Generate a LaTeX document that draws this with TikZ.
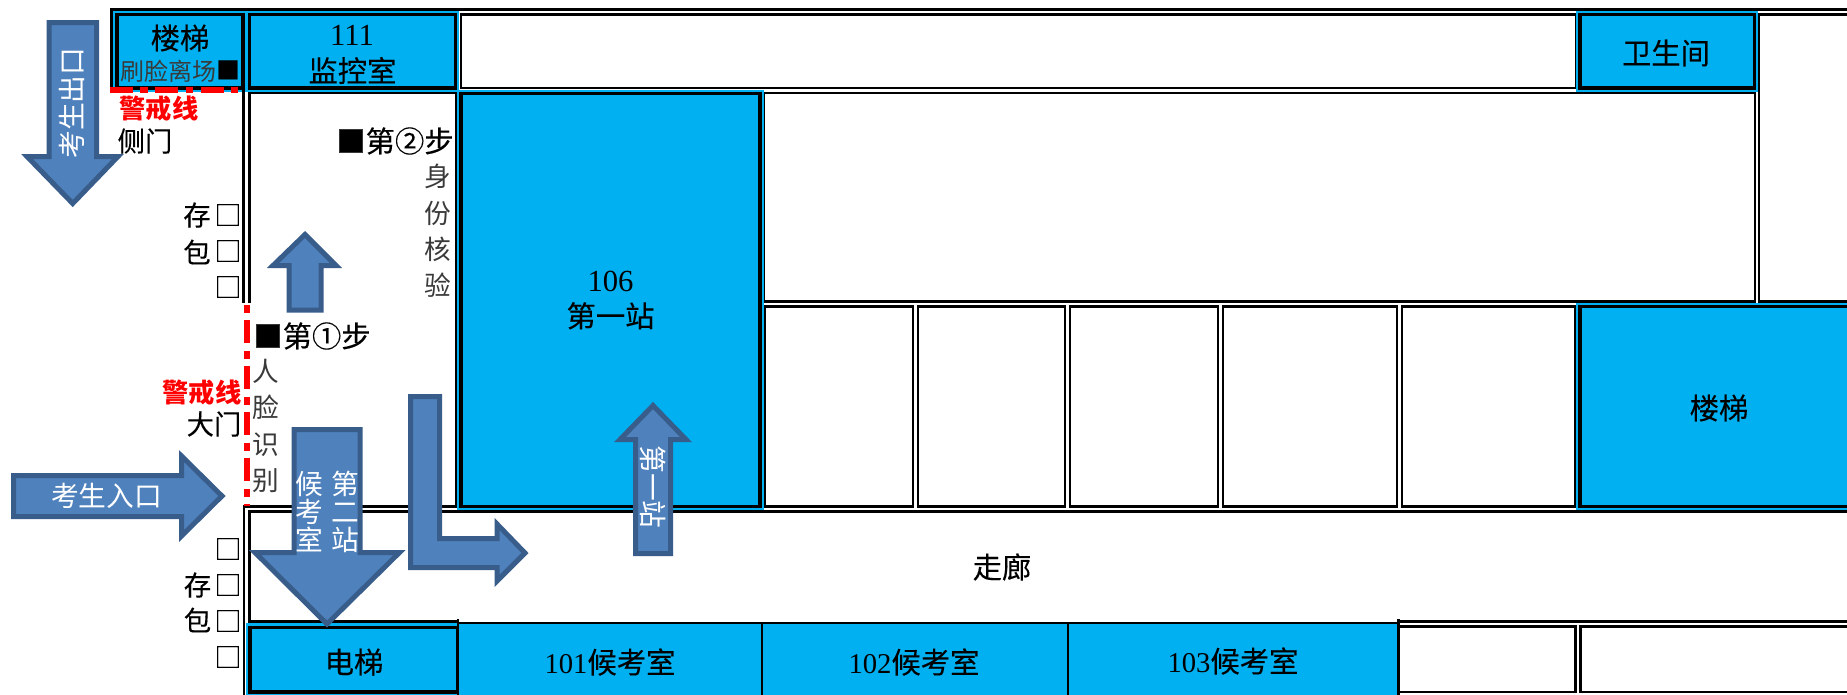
\documentclass[tikz,border=0pt]{standalone}
\usepackage{fontspec}
\setmainfont{Noto Sans CJK SC}
\newfontfamily\heavyfont[FakeBold=0.2]{Noto Sans CJK SC}
\newfontfamily\digitfont{Liberation Serif}
\definecolor{roomblue}{HTML}{00B0F0}
\definecolor{arrowfill}{HTML}{4F81BD}
\definecolor{arrowline}{HTML}{385D8A}
\definecolor{thintext}{HTML}{3A3A3A}
\tikzset{
  wall/.style={draw=black,line width=2.15pt},
  bluewall/.style={draw=black,line width=2.6pt,fill=roomblue},
  halo/.style={draw=roomblue,line width=.9pt,fill=roomblue},
  flow/.style={draw=arrowline,fill=arrowfill,line width=3.75pt,miter limit=10},
  redline/.style={draw=red,line width=4.1pt},
  lbl/.style={inner sep=0pt,outer sep=0pt,align=center},
  big/.style={lbl,font=\heavyfont\fontsize{22}{27}\selectfont},
  mid/.style={lbl,font=\heavyfont\fontsize{20.5}{27}\selectfont,text=black},
  thin/.style={lbl,font=\fontsize{20}{27.2}\selectfont,text=thintext},
  swipestyle/.style={lbl,font=\fontsize{18}{22}\selectfont,text=thintext},
  warn/.style={lbl,font=\fontsize{19.7}{22}\selectfont\bfseries,text=red},
  onarrow/.style={lbl,font=\fontsize{20.8}{21}\selectfont,text=white},
}
\newcommand{\dg}[1]{{\digitfont\fontsize{21.5}{24}\selectfont #1}}
\begin{document}
\begin{tikzpicture}[x=.75pt,y=-.75pt]
\useasboundingbox (0,0) rectangle (1847,694);
\fill[white] (0,0) rectangle (1847,694);
% outer top frame
\draw[wall] (111.5,90) -- (111.5,9.5) -- (1860,9.5);
% top row
\draw[halo] (114,11.5) rectangle (245.5,91);
\draw[bluewall] (117,14.5) rectangle (243,88);
\draw[halo] (246,11.5) rectangle (458.5,91);
\draw[bluewall] (249.5,14.5) rectangle (455.5,88);
\draw[wall] (461,14.5) rectangle (1576,88);
\draw[halo] (1577,11.5) rectangle (1757.5,91);
\draw[bluewall] (1580,14.5) rectangle (1754.5,88);
\draw[wall] (1860,14.5) -- (1759,14.5) -- (1759,301.5) -- (1860,301.5);
% second row
\draw[wall] (764,93) rectangle (1755,301.5);
\draw[halo] (458,90.5) rectangle (763,509);
\draw[bluewall] (461,93.5) rectangle (760,506.3);
% side rooms at the entrance
\draw[wall] (243.5,88) -- (243.5,303);
\draw[wall] (249.5,303) -- (249.5,93) -- (456,93) -- (456,506.3) -- (244,506.3) -- (244,700);
% lower row of rooms
\draw[wall] (765,306.7) rectangle (913,506.3);
\draw[wall] (918,306.7) rectangle (1065,506.3);
\draw[wall] (1070,306.7) rectangle (1218,506.3);
\draw[wall] (1223,306.7) rectangle (1397,506.3);
\draw[wall] (1402,306.7) rectangle (1575.5,506.3);
\draw[halo] (1577,304) rectangle (1860,509);
\draw[bluewall] (1580,306.7) rectangle (1860,506.3);
% corridor
\draw[wall] (249.5,700) -- (249.5,511.3) -- (1860,511.3);
\draw[wall] (249.5,621.5) -- (458,621.5);
\draw[wall] (1398,621.5) -- (1860,621.5);
% bottom row
\draw[halo] (247,624) rectangle (460,700);
\draw[bluewall] (250,627.5) rectangle (457.5,692);
\fill[roomblue] (459,623) rectangle (1398,700);
\draw[wall] (458,623) -- (1398,623);
\draw[wall] (458,619) -- (458,700);
\draw[wall] (762,623) -- (762,700);
\draw[wall] (1068,623) -- (1068,700);
\draw[wall] (1398.5,619) -- (1398.5,700);
\draw[wall] (1399,626.5) rectangle (1575.5,692);
\draw[wall] (1580.5,626.5) rectangle (1860,692);
% red warning lines
\draw[redline,dash pattern=on 17.25pt off 5.6pt on 5.6pt off 5.6pt] (110,90) -- (238,90);
\draw[redline,dash pattern=on 6pt off 5.25pt on 17.25pt off 6pt] (247,305) -- (247,506);
% arrows
\draw[flow] (49,22.5) -- (96.5,22.5) -- (96.5,156.5) -- (118,156.5) -- (72.7,203.5) -- (27,156.5) -- (49,156.5) -- cycle;
\draw[flow] (289,310) -- (321,310) -- (321,265.5) -- (336,265.5) -- (305,234.5) -- (273,265.5) -- (289,265.5) -- cycle;
\draw[flow] (13.5,475.5) -- (181.5,475.5) -- (181.5,456) -- (222,496) -- (181.5,536) -- (181.5,516.5) -- (13.5,516.5) -- cycle;
\draw[flow] (294,429.5) -- (360,429.5) -- (360,552.5) -- (399.5,552.5) -- (327,624) -- (255,552.5) -- (294,552.5) -- cycle;
\draw[flow] (410.5,396.5) -- (439.5,396.5) -- (439.5,538.5) -- (497,538.5) -- (497,524) -- (525,553) -- (497,581) -- (497,567.5) -- (410.5,567.5) -- cycle;
\draw[flow] (635.5,553.5) -- (670.5,553.5) -- (670.5,439.5) -- (686,439.5) -- (653,405.5) -- (620,439.5) -- (635.5,439.5) -- cycle;
% texts on the top row
\node[big] (stairA) at (180,38) {楼梯};
\node[swipestyle] (swipe) at (168,71) {刷脸离场};
\node[swipestyle,text=black] (swipeMark) at (228.5,70) {■};
\node[lbl] (numA) at (352,35) {\dg{\fontsize{23}{24}\selectfont 111}};
\node[big] (monitor) at (352.5,70.5) {监控室};
\node[big] (wc) at (1666,53) {卫生间};
% left side texts
\node[warn] (warnA) at (159,108) {警戒线};
\node[mid] (sideDoor) at (145,141) {侧门};
\node[mid] (storeA) at (197,215) {存};
\node[mid] (bagA) at (197,252) {包};
\node[mid] (boxA) at (228,215) {□};
\node[mid] (boxB) at (228,251) {□};
\node[mid] (boxC) at (228,287) {□};
\node[big] (stepTwo) at (395,141) {■第②步};
\node[thin] (verify) at (438,231) {身\\份\\核\\验};
\node[big] (stepOne) at (312,336) {■第①步};
\node[thin] (face) at (266,426) {人\\脸\\识\\别};
\node[warn] (warnB) at (202,392) {警戒线};
\node[mid] (mainDoor) at (214,424) {大门};
\node[mid] (boxD) at (228,549) {□};
\node[mid] (boxE) at (228,585) {□};
\node[mid] (boxF) at (228,621) {□};
\node[mid] (boxG) at (228,657) {□};
\node[mid] (storeB) at (197.5,585) {存};
\node[mid] (bagB) at (197.5,620) {包};
% room labels
\node[big] (first) at (610.5,300) {{\digitfont\fontsize{23}{27}\selectfont 106}\\第一站};
\node[big] (hall) at (1002,567) {走廊};
\node[big] (stairB) at (1719,408) {楼梯};
\node[big] (lift) at (354,662) {电梯};
\node[big] (roomA) at (610,662) {\dg{101}候考室};
\node[big] (roomB) at (914,662) {\dg{102}候考室};
\node[big] (roomC) at (1233,661) {\dg{103}候考室};
% arrow labels
\node[onarrow,rotate=90] (exitTxt) at (72,103) {考生出口};
\node[onarrow] (entryTxt) at (106.5,496) {考生入口};
\node[onarrow,rotate=-90] (firstTxt) at (653,487) {第一站};
\node[onarrow] (secondTxt) at (345,512) {第\\二\\站};
\node[onarrow] (waitTxt) at (309,512) {候\\考\\室};
\end{tikzpicture}
\end{document}
